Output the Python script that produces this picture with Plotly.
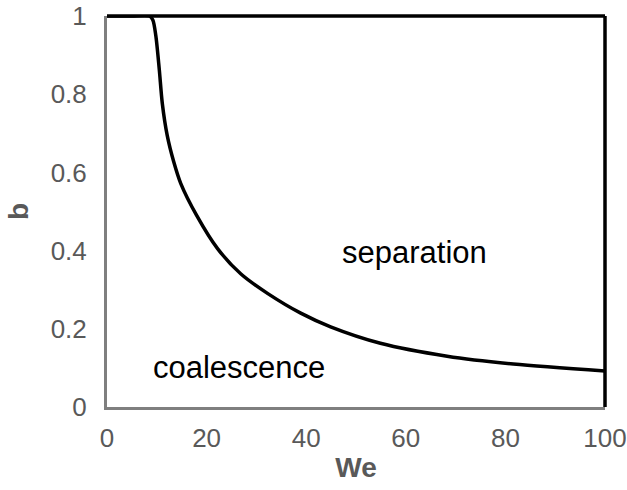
import plotly.graph_objects as go

we = [0, 5, 8.5, 9.2, 9.8, 10.5, 11.1, 12.1, 13.4, 14.8, 18, 22.2, 26.9,
      32.3, 38.9, 44.9, 54.9, 68.3, 81.6, 100]
b = [1, 1, 1, 0.99, 0.95, 0.863, 0.777, 0.694, 0.627, 0.572, 0.49, 0.405, 0.34,
     0.29, 0.24, 0.205, 0.163, 0.13, 0.11, 0.092]

x_ticks = [0, 20, 40, 60, 80, 100]
y_ticks = [0, 0.2, 0.4, 0.6, 0.8, 1]
y_tick_labels = ["0", "0.2", "0.4", "0.6", "0.8", "1"]

region_labels = ["separation", "coalescence"]
region_x = [61.7, 26.6]
region_y = [0.395, 0.10]

FONT = "Liberation Sans, Arial, sans-serif"
GRAY = "#595959"

fig = go.Figure()
fig.add_trace(go.Scatter(x=we, y=b, mode="lines",
                         line=dict(color="black", width=3.5, shape="spline", smoothing=0.8),
                         showlegend=False, hoverinfo="skip"))

for t, xx, yy in zip(region_labels, region_x, region_y):
    fig.add_annotation(x=xx, y=yy, text=t, showarrow=False,
                       font=dict(family=FONT, size=31, color="black"))

# top and right border
fig.add_shape(type="line", xref="paper", yref="paper", x0=0, x1=1, y0=1, y1=1,
              line=dict(color="black", width=3.5))
fig.add_shape(type="line", xref="paper", yref="paper", x0=1, x1=1, y0=0, y1=1,
              line=dict(color="black", width=3.5))

fig.update_layout(
    width=627, height=490,
    margin=dict(l=107, r=22, t=16, b=83),
    plot_bgcolor="white", paper_bgcolor="white",
    font=dict(family=FONT, color=GRAY),
    xaxis=dict(range=[0, 100], tickvals=x_ticks, showgrid=False, zeroline=False,
               showline=True, linecolor="#7f7f7f", linewidth=3, ticks="",
               automargin=False, ticklabelstandoff=6, ticklabeloverflow="allow",
               tickfont=dict(size=26, color=GRAY),
               title=dict(text="<b>We</b>", font=dict(size=28, color=GRAY), standoff=6)),
    yaxis=dict(range=[0, 1], tickvals=y_ticks, ticktext=y_tick_labels, showgrid=False,
               zeroline=False, showline=True, linecolor="#7f7f7f", linewidth=3, ticks="",
               automargin=False, ticklabelstandoff=12, ticklabeloverflow="allow",
               tickfont=dict(size=26, color=GRAY),
               title=dict(text="<b>b</b>", font=dict(size=28, color=GRAY), standoff=14)),
)

fig.write_html("out.html")
